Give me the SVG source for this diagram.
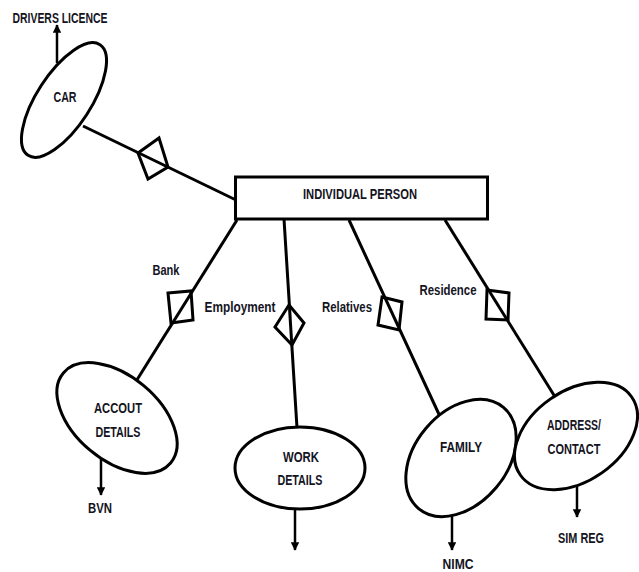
<svg xmlns="http://www.w3.org/2000/svg" width="639" height="572" viewBox="0 0 639 572">
<defs>
<marker id="ah" viewBox="0 0 10 10" refX="9" refY="5" markerWidth="3.6" markerHeight="3.4" orient="auto" markerUnits="strokeWidth">
<path d="M0,0 L10,5 L0,10 z" fill="#000"/>
</marker>
<style>
.s{fill:none;stroke:#000;stroke-width:3}
.n{fill:#fff;stroke:#000;stroke-width:3}
.t{font-family:"Liberation Sans",Arial,sans-serif;font-weight:bold;font-size:14.5px;fill:#14141e;text-anchor:middle}
.a{fill:none;stroke:#000;stroke-width:2.5;marker-end:url(#ah)}
</style>
</defs>
<rect width="639" height="572" fill="#fff"/>
<g id="connectors">
<line class="s" x1="83" y1="126" x2="236" y2="200"/>
<polygon class="s" points="138,153 159,138 168,167 148,179"/>
<line class="s" x1="237" y1="220" x2="135" y2="383"/>
<polygon class="s" points="168,293 191,291 193,320 171,323"/>
<line class="s" x1="284" y1="219" x2="297" y2="428"/>
<polygon class="s" points="289,305 304,323 292,345 275,327"/>
<line class="s" x1="349" y1="220" x2="443" y2="423"/>
<polygon class="s" points="382,297 402,302 399,330 378,325"/>
<line class="s" x1="445" y1="220" x2="557" y2="400"/>
<polygon class="s" points="487,290 509,293 508,320 486,319"/>
<line class="a" x1="57" y1="63" x2="57" y2="25"/>
<line class="a" x1="101" y1="455" x2="101" y2="495"/>
<line class="a" x1="295" y1="510" x2="295" y2="550"/>
<line class="a" x1="452" y1="514" x2="452" y2="550"/>
<line class="a" x1="577" y1="481" x2="577" y2="517"/>
</g>
<g id="labels">
<text class="t" x="166" y="275" textLength="27" lengthAdjust="spacingAndGlyphs">Bank</text>
<text class="t" x="240" y="312" textLength="71" lengthAdjust="spacingAndGlyphs">Employment</text>
<text class="t" x="347" y="312" textLength="50" lengthAdjust="spacingAndGlyphs">Relatives</text>
<text class="t" x="448" y="295" textLength="57" lengthAdjust="spacingAndGlyphs">Residence</text>
<text class="t" x="60" y="23" textLength="95" lengthAdjust="spacingAndGlyphs">DRIVERS LICENCE</text>
<text class="t" x="100" y="513" textLength="24" lengthAdjust="spacingAndGlyphs">BVN</text>
<text class="t" x="458" y="569" textLength="31" lengthAdjust="spacingAndGlyphs">NIMC</text>
<text class="t" x="581" y="543" textLength="46" lengthAdjust="spacingAndGlyphs">SIM REG</text>
</g>
<g id="car">
<ellipse class="n" cx="64" cy="100" rx="66" ry="27" transform="rotate(-57 64 100)"/>
<text class="t" x="65" y="102" textLength="23" lengthAdjust="spacingAndGlyphs">CAR</text>
</g>
<g id="individual-person">
<rect class="n" x="235.5" y="177" width="252" height="42"/>
<text class="t" x="360" y="199" textLength="114" lengthAdjust="spacingAndGlyphs">INDIVIDUAL PERSON</text>
</g>
<g id="account-details">
<ellipse class="n" cx="117" cy="418" rx="70" ry="42" transform="rotate(40 117 418)"/>
<text class="t" x="118" y="413" textLength="48" lengthAdjust="spacingAndGlyphs">ACCOUT</text>
<text class="t" x="118" y="437" textLength="45" lengthAdjust="spacingAndGlyphs">DETAILS</text>
</g>
<g id="work-details">
<ellipse class="n" cx="300" cy="468" rx="65" ry="41"/>
<text class="t" x="301" y="462" textLength="36" lengthAdjust="spacingAndGlyphs">WORK</text>
<text class="t" x="300" y="485" textLength="45" lengthAdjust="spacingAndGlyphs">DETAILS</text>
</g>
<g id="family">
<ellipse class="n" cx="461" cy="458" rx="66" ry="46" transform="rotate(-50 461 458)"/>
<text class="t" x="461" y="452" textLength="42" lengthAdjust="spacingAndGlyphs">FAMILY</text>
</g>
<g id="address-contact">
<ellipse class="n" cx="576" cy="436" rx="68" ry="45" transform="rotate(-35 576 436)"/>
<text class="t" x="574" y="430" textLength="54" lengthAdjust="spacingAndGlyphs">ADDRESS/</text>
<text class="t" x="574" y="454" textLength="53" lengthAdjust="spacingAndGlyphs">CONTACT</text>
</g>
</svg>
